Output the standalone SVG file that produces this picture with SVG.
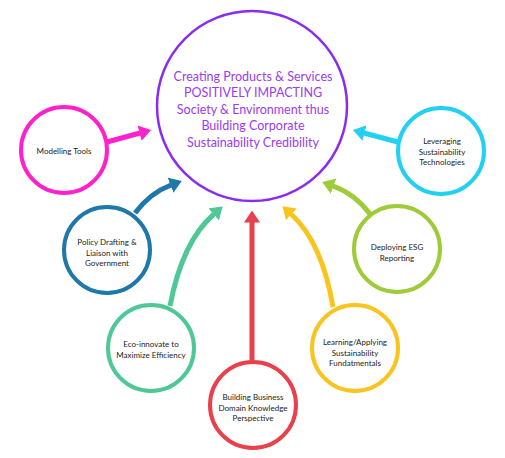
<svg xmlns="http://www.w3.org/2000/svg" width="505" height="458" viewBox="0 0 505 458">
<style>
.node{fill:#fff;stroke-width:4}
.lbl{font-family:Lato,"Liberation Sans",sans-serif;font-size:8px;fill:#222;text-anchor:middle}
.main{font-family:Lato,"Liberation Sans",sans-serif;font-size:12.5px;fill:#9a3cf0;text-anchor:middle}
.con{fill:none;stroke-width:5}
</style>
<defs>
<marker id="ahPink" viewBox="0 0 12 16" refX="0.5" refY="8" markerWidth="12" markerHeight="16" markerUnits="userSpaceOnUse" orient="auto"><path d="M0,0 L12,8 L0,16 Z" fill="#ff22cc"/></marker>
<marker id="ahBlue" viewBox="0 0 12 16" refX="0.5" refY="8" markerWidth="12" markerHeight="16" markerUnits="userSpaceOnUse" orient="auto"><path d="M0,0 L12,8 L0,16 Z" fill="#1f78aa"/></marker>
<marker id="ahTeal" viewBox="0 0 12 16" refX="0.5" refY="8" markerWidth="12" markerHeight="16" markerUnits="userSpaceOnUse" orient="auto"><path d="M0,0 L12,8 L0,16 Z" fill="#4fc796"/></marker>
<marker id="ahRed" viewBox="0 0 12 16" refX="0.5" refY="8" markerWidth="12" markerHeight="16" markerUnits="userSpaceOnUse" orient="auto"><path d="M0,0 L12,8 L0,16 Z" fill="#e8414b"/></marker>
<marker id="ahYellow" viewBox="0 0 12 16" refX="0.5" refY="8" markerWidth="12" markerHeight="16" markerUnits="userSpaceOnUse" orient="auto"><path d="M0,0 L12,8 L0,16 Z" fill="#f8c41e"/></marker>
<marker id="ahGreen" viewBox="0 0 12 16" refX="0.5" refY="8" markerWidth="12" markerHeight="16" markerUnits="userSpaceOnUse" orient="auto"><path d="M0,0 L12,8 L0,16 Z" fill="#9ecb38"/></marker>
<marker id="ahCyan" viewBox="0 0 12 16" refX="0.5" refY="8" markerWidth="12" markerHeight="16" markerUnits="userSpaceOnUse" orient="auto"><path d="M0,0 L12,8 L0,16 Z" fill="#22d0f2"/></marker>
</defs>
<rect width="505" height="458" fill="#fff"/>
<g id="connectors">
<path class="con" stroke="#ff22cc" d="M107,142 L140,133" marker-end="url(#ahPink)"/>
<path class="con" stroke="#1f78aa" d="M135,213 Q150,193 171,185" marker-end="url(#ahBlue)"/>
<path class="con" stroke="#4fc796" d="M170,306 Q182,242 214,214" marker-end="url(#ahTeal)"/>
<path class="con" stroke="#e8414b" d="M252,362 L252,222" marker-end="url(#ahRed)"/>
<path class="con" stroke="#f8c41e" d="M333,307 Q322,242 291,214" marker-end="url(#ahYellow)"/>
<path class="con" stroke="#9ecb38" d="M370,214 Q355,194 333,186" marker-end="url(#ahGreen)"/>
<path class="con" stroke="#22d0f2" d="M398,142 L364,133" marker-end="url(#ahCyan)"/>
</g>
<g id="center">
<circle cx="252" cy="106" r="95" fill="#fff" stroke="#8a2cf0" stroke-width="2.5"/>
<text class="main" x="253" y="81">Creating Products &amp; Services</text>
<text class="main" x="253" y="97">POSITIVELY IMPACTING</text>
<text class="main" x="253" y="114">Society &amp; Environment thus</text>
<text class="main" x="253" y="130">Building Corporate</text>
<text class="main" x="253" y="147">Sustainability Credibility</text>
</g>
<g id="modelling">
<circle class="node" cx="64" cy="150" r="43" stroke="#ff22cc"/>
<text class="lbl" x="64" y="154">Modelling Tools</text>
</g>
<g id="policy">
<circle class="node" cx="107" cy="250" r="43" stroke="#1f78aa"/>
<text class="lbl" x="107" y="245">Policy Drafting &amp;</text>
<text class="lbl" x="107" y="255.5">Liaison with</text>
<text class="lbl" x="107" y="266">Government</text>
</g>
<g id="eco">
<circle class="node" cx="151" cy="348" r="43" stroke="#4fc796"/>
<text class="lbl" x="151" y="347">Eco-innovate to</text>
<text class="lbl" x="151" y="357.5">Maximize Efficiency</text>
</g>
<g id="building">
<circle class="node" cx="253" cy="405" r="43" stroke="#e8414b"/>
<text class="lbl" x="253" y="400">Building Business</text>
<text class="lbl" x="253" y="410.5">Domain Knowledge</text>
<text class="lbl" x="253" y="421">Perspective</text>
</g>
<g id="learning">
<circle class="node" cx="355" cy="348" r="43" stroke="#f8c41e"/>
<text class="lbl" x="355" y="345">Learning/Applying</text>
<text class="lbl" x="355" y="355.5">Sustainability</text>
<text class="lbl" x="355" y="366">Fundatmentals</text>
</g>
<g id="deploying">
<circle class="node" cx="397" cy="249" r="43" stroke="#9ecb38"/>
<text class="lbl" x="397" y="250">Deploying ESG</text>
<text class="lbl" x="397" y="261">Reporting</text>
</g>
<g id="leveraging">
<circle class="node" cx="441" cy="151" r="43" stroke="#22d0f2"/>
<text class="lbl" x="442" y="144">Leveraging</text>
<text class="lbl" x="442" y="154.5">Sustainability</text>
<text class="lbl" x="442" y="165">Technologies</text>
</g>
</svg>
